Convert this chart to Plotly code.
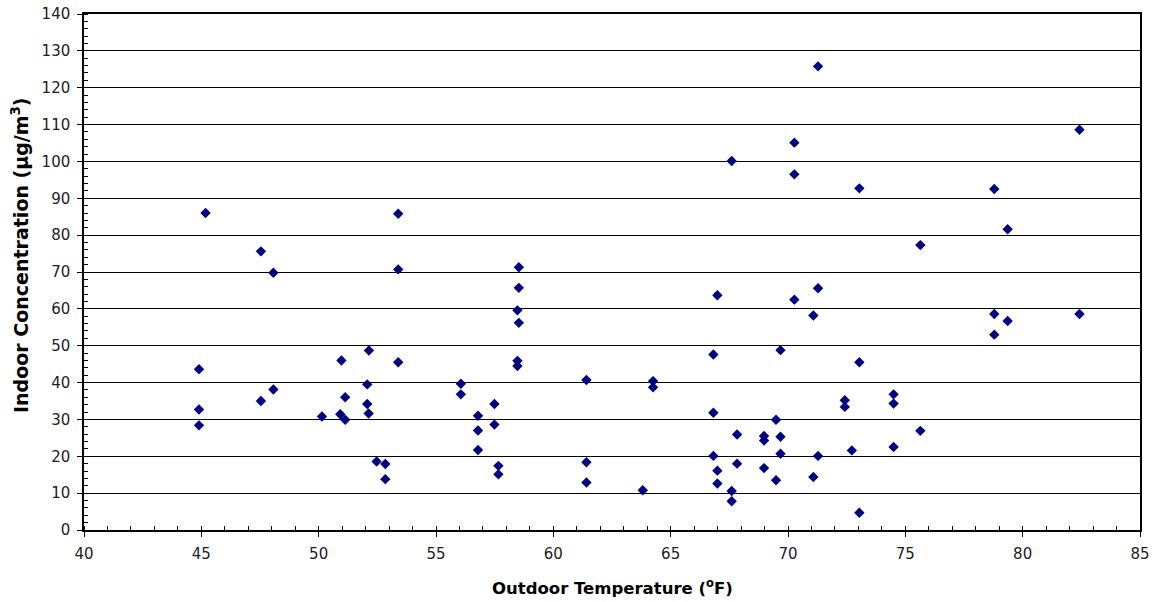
import plotly.graph_objects as go

outdoor_temp_f = [
    45.18, 44.9, 44.9, 44.9,
    47.54, 47.54,
    48.07, 48.07,
    50.14,
    50.97, 50.92, 51.13, 51.13,
    52.14, 52.07, 52.07, 52.13,
    52.47, 52.84, 52.84,
    53.39, 53.39, 53.39,
    56.06, 56.06,
    56.79, 56.79, 56.79,
    57.49, 57.49, 57.66, 57.66,
    58.53, 58.53, 58.47, 58.53, 58.47, 58.47,
    61.41, 61.41, 61.41,
    63.81,
    64.25, 64.25,
    66.82, 66.82, 66.82,
    66.99, 66.99, 66.99,
    67.6, 67.6, 67.6,
    67.83, 67.83,
    68.98, 68.98, 68.98,
    69.49, 69.49,
    69.68, 69.68, 69.68,
    70.27, 70.27, 70.27,
    71.08, 71.08,
    71.28, 71.28, 71.28,
    72.42, 72.42, 72.72,
    73.04, 73.04, 73.04,
    74.5, 74.5, 74.5,
    75.64, 75.64,
    78.79, 78.79, 78.79,
    79.36, 79.36,
    82.42, 82.42,
]

indoor_conc = [
    86.0, 43.6, 32.7, 28.4,
    75.6, 35.0,
    69.8, 38.1,
    30.8,
    46.0, 31.4, 29.9, 36.0,
    48.7, 39.5, 34.2, 31.6,
    18.6, 17.9, 13.8,
    85.8, 70.7, 45.5,
    39.7, 36.8,
    31.0, 27.0, 21.7,
    34.2, 28.6, 17.4, 15.1,
    71.3, 65.7, 59.6, 56.2, 45.9, 44.5,
    40.7, 18.4, 12.9,
    10.8,
    40.4, 38.7,
    47.6, 31.8, 20.1,
    63.7, 16.1, 12.6,
    100.1, 10.6, 7.8,
    25.9, 18.0,
    25.5, 24.3, 16.8,
    29.9, 13.5,
    48.8, 25.3, 20.7,
    105.1, 96.5, 62.5,
    58.2, 14.4,
    125.8, 65.6, 20.1,
    35.2, 33.4, 21.6,
    92.7, 45.5, 4.7,
    36.8, 34.3, 22.5,
    77.3, 26.9,
    92.5, 58.6, 53.0,
    81.6, 56.7,
    108.6, 58.6,
]

x_ticks = [40, 45, 50, 55, 60, 65, 70, 75, 80, 85]
y_ticks = [0, 10, 20, 30, 40, 50, 60, 70, 80, 90, 100, 110, 120, 130, 140]

x_title = "<b>Outdoor Temperature (<sup>o</sup>F)</b>"
y_title = "<b>Indoor Concentration (µg/m<sup>3</sup>)</b>"

FONT = "DejaVu Sans, Verdana, sans-serif"

fig = go.Figure()
fig.add_trace(go.Scatter(
    x=outdoor_temp_f, y=indoor_conc, mode="markers",
    marker=dict(symbol="diamond", size=8, color="#000080", line=dict(width=0)),
    showlegend=False, hoverinfo="x+y",
))

fig.update_layout(
    width=1156, height=602,
    margin=dict(l=84, r=16, t=14, b=72),
    paper_bgcolor="white", plot_bgcolor="white",
    font=dict(family=FONT, size=15, color="black"),
    xaxis=dict(
        range=[40, 85], tickvals=x_ticks, ticktext=[str(v) for v in x_ticks],
        showgrid=False, zeroline=False, automargin=False,
        showline=True, linecolor="black", linewidth=1.5, mirror=True,
        ticks="outside", ticklen=5, tickcolor="black", tickwidth=1,
        ticklabelstandoff=4,
        minor=dict(dtick=1, ticks="inside", ticklen=4, tickcolor="black", showgrid=False),
        tickfont=dict(family=FONT, size=15, color="#222"),
    ),
    yaxis=dict(
        range=[0, 140], tickvals=y_ticks, ticktext=[str(v) for v in y_ticks],
        showgrid=True, gridcolor="black", gridwidth=1, zeroline=False, automargin=False,
        showline=True, linecolor="black", linewidth=1.5, mirror=True,
        ticks="outside", ticklen=5, tickcolor="black", tickwidth=1,
        ticklabelstandoff=4,
        minor=dict(dtick=2, ticks="inside", ticklen=4, tickcolor="black", showgrid=False),
        tickfont=dict(family=FONT, size=15, color="#222"),
    ),
    annotations=[
        dict(text=x_title, xref="paper", yref="paper", x=0.5, y=0,
             xanchor="center", yanchor="middle", yshift=-57, showarrow=False,
             font=dict(family=FONT, size=16.5, color="black")),
        dict(text=y_title, xref="paper", yref="paper", x=0, y=0.533,
             xanchor="center", yanchor="middle", xshift=-64, textangle=-90, showarrow=False,
             font=dict(family=FONT, size=19, color="black")),
    ],
)

fig.write_html("out.html", config={"displayModeBar": False},
               post_script="document.body.style.margin='0';")
